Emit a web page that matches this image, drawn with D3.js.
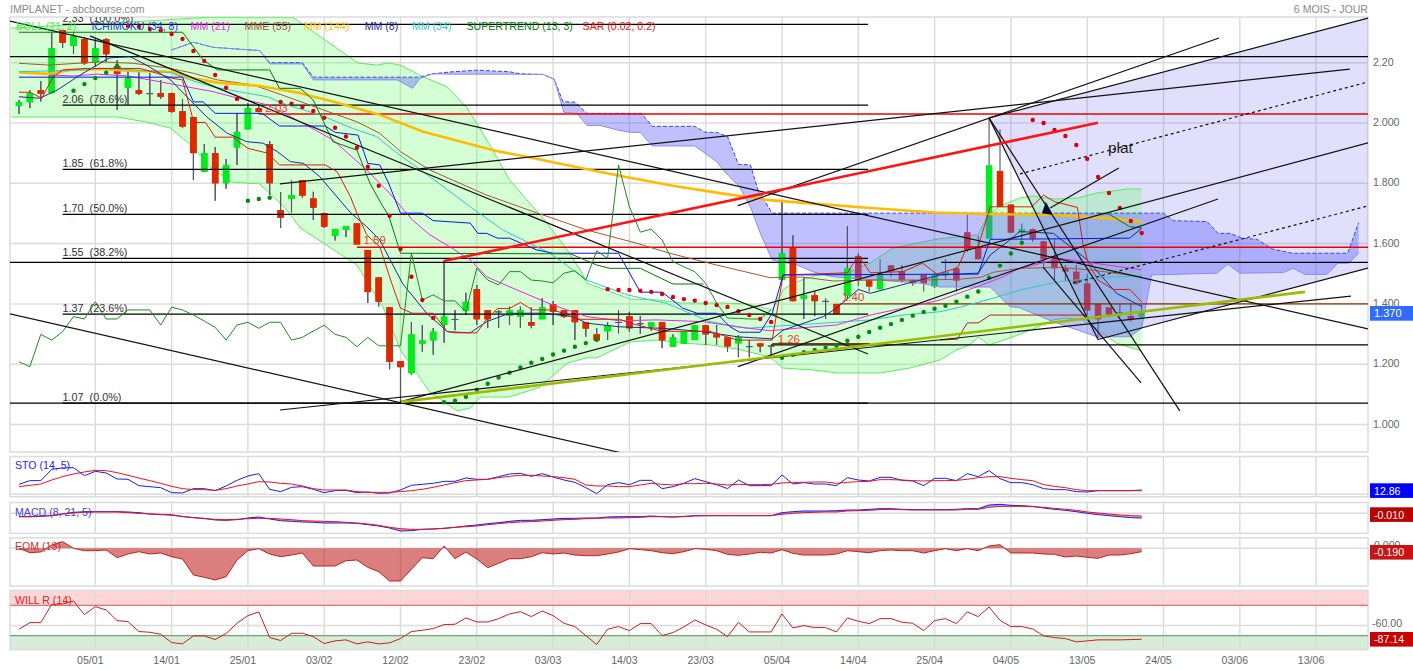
<!DOCTYPE html>
<html><head><meta charset="utf-8">
<script src="https://cdn.jsdelivr.net/npm/d3@7"></script>
<style>html,body{margin:0;padding:0;background:#fff}svg{display:block}text{font-family:"Liberation Sans",Arial,sans-serif}</style>
</head><body><svg id="c" width="1413" height="670"></svg>
<script>
// ---------- candles (one entry per session) ----------
const opens=[2.057,2.069,2.109,2.099,2.308,2.256,2.278,2.201,2.278,2.189,2.117,2.109,2.099,2.099,2.099,2.039,2.02,1.838,1.9,1.8,1.919,1.979,2.049,1.93,1.711,1.748,1.811,1.75,1.701,1.626,1.645,1.667,1.579,1.488,1.389,1.21,1.17,1.268,1.279,1.33,1.35,1.377,1.449,1.379,1.375,1.36,1.358,1.34,1.349,1.399,1.379,1.379,1.339,1.299,1.309,1.34,1.359,1.336,1.324,1.339,1.258,1.268,1.28,1.329,1.299,1.289,1.269,1.26,1.269,1.262,1.479,1.588,1.417,1.429,1.41,1.4,1.427,1.559,1.479,1.448,1.528,1.509,1.479,1.496,1.457,1.494,1.518,1.638,1.59,1.616,1.841,1.73,1.636,1.648,1.608,1.559,1.518,1.507,1.468,1.4,1.389,1.372,1.36,1.358];
const highs=[2.076,2.109,2.139,2.299,2.312,2.299,2.285,2.279,2.282,2.209,2.182,2.169,2.166,2.143,2.1,2.08,2.02,1.93,1.92,1.881,2.033,2.066,2.063,1.94,1.771,1.811,1.811,1.772,1.702,1.648,1.658,1.667,1.579,1.488,1.389,1.21,1.34,1.33,1.32,1.546,1.38,1.437,1.463,1.38,1.38,1.391,1.391,1.389,1.419,1.41,1.38,1.38,1.339,1.319,1.34,1.38,1.374,1.36,1.34,1.34,1.299,1.307,1.329,1.329,1.33,1.29,1.297,1.28,1.27,1.262,1.745,1.628,1.488,1.441,1.418,1.4,1.658,1.569,1.48,1.548,1.529,1.529,1.48,1.497,1.503,1.549,1.523,1.697,1.625,2.016,1.979,1.73,1.667,1.65,1.61,1.617,1.529,1.529,1.499,1.4,1.389,1.4,1.4,1.4];
const lows=[2.03,2.05,2.071,2.099,2.25,2.229,2.192,2.187,2.203,2.043,2.06,2.093,2.06,2.08,2.033,1.983,1.811,1.837,1.742,1.782,1.861,1.979,2.036,1.761,1.652,1.703,1.751,1.678,1.652,1.61,1.622,1.597,1.403,1.391,1.183,1.071,1.164,1.241,1.231,1.271,1.313,1.363,1.33,1.32,1.321,1.33,1.321,1.319,1.349,1.33,1.353,1.28,1.291,1.275,1.28,1.302,1.308,1.3,1.311,1.253,1.258,1.268,1.28,1.264,1.264,1.241,1.223,1.223,1.24,1.225,1.479,1.409,1.35,1.36,1.35,1.367,1.418,1.459,1.44,1.448,1.489,1.47,1.459,1.441,1.453,1.483,1.44,1.572,1.548,1.616,1.722,1.636,1.612,1.605,1.523,1.479,1.474,1.463,1.363,1.287,1.36,1.358,1.341,1.353];
const closes=[2.069,2.099,2.097,2.248,2.266,2.288,2.198,2.248,2.228,2.163,2.148,2.097,2.098,2.087,2.037,1.988,1.9,1.9,1.8,1.861,1.97,2.049,2.037,1.8,1.686,1.761,1.759,1.719,1.656,1.648,1.658,1.597,1.439,1.407,1.208,1.19,1.299,1.279,1.308,1.358,1.349,1.407,1.349,1.349,1.374,1.379,1.379,1.328,1.389,1.374,1.358,1.339,1.318,1.279,1.329,1.339,1.319,1.335,1.339,1.279,1.289,1.307,1.329,1.299,1.289,1.259,1.289,1.259,1.259,1.261,1.568,1.409,1.429,1.409,1.409,1.367,1.518,1.479,1.457,1.499,1.509,1.479,1.468,1.468,1.496,1.507,1.477,1.579,1.548,1.86,1.722,1.636,1.648,1.616,1.548,1.518,1.507,1.468,1.378,1.349,1.363,1.371,1.349,1.37];

// ---------- overlays: [session index, price] ----------
const bollUpper=[[-0.7,2.315],[10.2,2.335],[17.5,2.351],[25.1,2.351],[31.1,2.199],[32.8,2.192],[33.9,2.199],[35,2.192],[37.1,2.153],[39.3,2.119],[41.1,2.05],[43.2,1.927],[45,1.811],[46.6,1.745],[48,1.688],[50.3,1.579],[51.5,1.512],[52.1,1.469],[53.3,1.453],[56.1,1.416],[58.5,1.413],[60.9,1.403],[64.6,1.403],[66.8,1.4],[69.1,1.38],[70.1,1.446],[71,1.469],[73.2,1.496],[76,1.503],[78.1,1.536],[80.2,1.585],[84.2,1.615],[88,1.629],[88.8,1.688],[90,1.725],[91.8,1.751],[93,1.758],[94.9,1.748],[97.1,1.751],[98.9,1.768],[101.7,1.781],[103,1.781]];
const bollLower=[[-0.7,2.02],[3.8,2.02],[9,2.02],[11.7,2.003],[13.9,1.983],[16,1.92],[17.8,1.844],[19.6,1.804],[22.1,1.798],[24.6,1.711],[25.8,1.652],[31,1.529],[33.4,1.39],[35,1.247],[37.7,1.108],[40.2,1.045],[41.4,1.055],[42.3,1.091],[45,1.091],[47.8,1.124],[50.3,1.204],[52.1,1.221],[53,1.221],[56.1,1.274],[58.5,1.28],[60.9,1.27],[63.4,1.264],[65.9,1.25],[68.9,1.224],[70.1,1.187],[72.8,1.181],[75,1.171],[79,1.171],[81.7,1.187],[84.5,1.214],[86,1.247],[87.2,1.264],[88,1.29],[89,1.264],[90.9,1.287],[92.8,1.313],[94.9,1.347],[96,1.353],[97.6,1.347],[99,1.313],[100.7,1.27],[103,1.244]];
const cloudTop=[[14,2.242],[16,2.268],[17.8,2.251],[22.1,2.24],[23,2.2],[26,2.2],[27,2.152],[35,2.152],[36.8,2.152],[37.9,2.163],[39.8,2.17],[42,2.175],[45,2.17],[46,2.163],[48.1,2.161],[49.1,2.145],[49.9,2.071],[51,2.069],[52.1,2.032],[57.1,2.032],[58.1,1.989],[62,1.989],[62.9,1.97],[64.1,1.968],[65,1.955],[66,1.863],[67.1,1.861],[67.8,1.778],[69.1,1.701],[105,1.701],[105.9,1.676],[109,1.673],[110,1.634],[111.1,1.634],[112.2,1.618],[113.6,1.614],[115,1.582],[116.8,1.568],[121.9,1.568],[122.9,1.669]];
const cloudBottom=[[14,2.242],[16,2.268],[17.8,2.251],[22.1,2.24],[23,2.196],[26,2.196],[27,2.143],[34.7,2.143],[36.1,2.115],[36.8,2.148],[37.9,2.163],[39.8,2.162],[45,2.162],[48.1,2.161],[49.1,2.145],[50,2.035],[51.2,2.032],[52.1,1.992],[53.3,1.992],[54.9,1.977],[56.1,1.969],[57,1.969],[58.1,1.924],[62,1.924],[64,1.872],[65,1.828],[66.1,1.789],[67.1,1.722],[68,1.635],[69.1,1.546],[71.4,1.529],[72.8,1.507],[74.7,1.49],[76,1.486],[82.7,1.469],[84.5,1.456],[89.1,1.456],[90.9,1.391],[91.8,1.387],[94.9,1.341],[98.9,1.291],[101.9,1.291],[103,1.319],[103.9,1.496],[109.9,1.502],[110.9,1.532],[112,1.502],[116,1.504],[116.9,1.518],[118,1.498],[120,1.498],[121,1.535],[122,1.535],[122.9,1.568]];
const ichimokuFast=[[0,2.152],[15,2.152],[16,2.07],[16.9,2.07],[18,2.032],[22.3,2.032],[23.9,1.99],[28.1,1.99],[29,1.969],[31.1,1.96],[32,1.866],[33.1,1.861],[33.9,1.801],[35,1.701],[37,1.701],[38,1.676],[41.4,1.668],[42.1,1.634],[42.9,1.634],[43.9,1.618],[45,1.618],[47.5,1.579],[49,1.568],[55,1.568],[57,1.439],[59,1.439],[60.9,1.386],[62.2,1.369],[64,1.369],[65.2,1.325],[66.1,1.306],[68,1.306],[69.1,1.369],[70.1,1.496],[88,1.499],[89.1,1.614],[101.9,1.618],[103,1.651]];
const ichimokuSlow=[[0,2.102],[1,2.102],[2.1,2.082],[3.1,2.152],[4,2.176],[6.1,2.181],[11.1,2.181],[12.2,2.17],[14.1,2.148],[15,2.143],[15.9,2.021],[16.1,2.002],[17.1,2.002],[18,1.953],[19.6,1.953],[21,1.916],[22.8,1.9],[23.9,1.861],[28.1,1.861],[29.2,1.838],[30.4,1.756],[31,1.701],[31.9,1.629],[33.1,1.59],[34.2,1.468],[35,1.386],[36.1,1.369],[38,1.369],[39.3,1.308],[40,1.304],[42,1.304],[42.9,1.349],[43.9,1.385],[45,1.385],[46,1.405],[47.1,1.38],[49,1.38],[49.9,1.369],[51.2,1.349],[55.1,1.349],[56.1,1.336],[59,1.309],[63.4,1.309],[65.9,1.28],[69.1,1.28],[70.1,1.496],[76,1.503],[77,1.562],[78.1,1.503],[81.1,1.507],[82.9,1.535],[84.2,1.499],[86.1,1.519],[87,1.59],[88,1.59],[89.1,1.722],[92.9,1.722],[94,1.761],[95,1.739],[97.1,1.72],[97.6,1.601],[98.1,1.534],[99,1.479],[100.4,1.448],[101.9,1.448],[103,1.407]];
const ichimokuStep=[[84.5,1.28],[86.1,1.283],[87,1.337],[88,1.337],[89.1,1.363],[98,1.363]];
const chikou=[1.208,1.192,1.299,1.28,1.308,1.358,1.35,1.407,1.35,1.35,1.38,1.38,1.38,1.33,1.389,1.38,1.363,1.343,1.322,1.28,1.33,1.339,1.319,1.339,1.339,1.28,1.289,1.31,1.329,1.299,1.289,1.258,1.289,1.261,1.261,1.261,1.568,1.413,1.43,1.41,1.41,1.374,1.518,1.479,1.463,1.507,1.507,1.479,1.476,1.47,1.502,1.51,1.479,1.576,1.551,1.861,1.722,1.638,1.648,1.612,1.54,1.523,1.507,1.468,1.403,1.353,1.352,1.35,1.35,1.38];
const mm144=[[0,2.168],[2.8,2.163],[4.7,2.176],[7.4,2.179],[10.5,2.173],[13.9,2.17],[16,2.148],[18.2,2.134],[22.1,2.123],[25.8,2.099],[28.8,2.071],[33.1,2.027],[37.1,1.971],[42.3,1.921],[44.1,1.905],[46.6,1.888],[51.2,1.853],[55.8,1.82],[60,1.792],[64,1.769],[68.6,1.745],[71.7,1.736],[78.1,1.718],[84,1.703],[88.9,1.698],[95.2,1.695],[99.8,1.684],[103,1.673]];
const mme55=[[0,2.198],[2.8,2.192],[7.4,2.203],[10.5,2.198],[13.9,2.181],[16,2.165],[18.2,2.143],[21.5,2.126],[24.6,2.087],[28.8,2.032],[31,2.004],[33.1,1.966],[35,1.905],[37.7,1.844],[42.9,1.761],[47.5,1.702],[52.1,1.645],[56.7,1.601],[59.7,1.568],[64,1.529],[68.9,1.487],[71.9,1.489],[74.7,1.476],[78.1,1.479],[82.9,1.479],[86.3,1.482],[88.2,1.488],[89.4,1.505],[91.8,1.518],[95.5,1.521],[98.5,1.512],[103,1.49]];
const mm21=[[2.8,2.159],[5,2.156],[7.2,2.162],[9.9,2.156],[12,2.143],[15.4,2.12],[17.8,2.104],[19.6,2.087],[22.8,2.06],[25.8,2.004],[28.8,1.944],[31.9,1.844],[34,1.767],[36.1,1.678],[37.7,1.629],[39.5,1.59],[41.4,1.546],[42.9,1.49],[45.7,1.446],[49,1.396],[52.1,1.358],[55.1,1.344],[58.5,1.347],[62.8,1.341],[65.9,1.324],[68.9,1.311],[71.9,1.321],[75,1.33],[78.1,1.363],[81.1,1.386],[84.5,1.413],[87.9,1.457],[90.3,1.49],[91.6,1.515],[95.5,1.551],[103,1.513]];
const mm34=[[0,2.17],[5.9,2.176],[7.4,2.181],[10.5,2.176],[13.9,2.167],[15.7,2.143],[17.8,2.12],[20.9,2.099],[22.8,2.087],[24.6,2.06],[27.6,2.027],[30.6,1.982],[32.8,1.955],[34.7,1.9],[37.7,1.822],[41.4,1.722],[44.4,1.645],[48.7,1.568],[52.1,1.479],[55.8,1.43],[59.4,1.402],[63.4,1.341],[66.8,1.319],[69.8,1.327],[73.8,1.336],[78.1,1.347],[81.1,1.363],[84.5,1.374],[86.3,1.389],[89.4,1.419],[91.8,1.446],[95.5,1.474],[99.4,1.488],[103,1.493]];
const mm8=[[0,2.087],[1.9,2.082],[3.5,2.109],[5.6,2.159],[8.3,2.216],[10.2,2.22],[11.7,2.192],[13.9,2.143],[15.4,2.087],[17.2,2.021],[19.1,1.966],[20.9,1.938],[22.4,1.933],[23.7,1.905],[24.9,1.872],[26.1,1.866],[27.6,1.822],[30.4,1.703],[31.9,1.656],[33.1,1.612],[35.2,1.467],[37.4,1.369],[39.3,1.308],[41.4,1.304],[42.9,1.341],[45,1.369],[48.1,1.369],[50.8,1.358],[52.1,1.336],[55.1,1.324],[59.1,1.319],[62.8,1.308],[65.9,1.291],[69.1,1.284],[70.1,1.313],[73.8,1.358],[75,1.386],[77,1.448],[78.1,1.435],[81.5,1.468],[84.5,1.496],[88,1.502],[89.1,1.562],[90.9,1.612],[91.8,1.64],[94.9,1.634],[98,1.546],[100.7,1.435],[103,1.391]];
const supertrendA=[[0,2.301],[15,2.301],[16.9,2.209],[18.2,2.176],[23,2.176],[23.9,2.115],[25.8,2.115],[27,2.076],[28.8,1.938],[31,1.91],[32.2,1.8],[33.4,1.722],[33.9,1.695],[35,1.568],[50.6,1.566],[53,1.529],[54.2,1.518],[57,1.518],[60,1.466],[62.8,1.466]];
const supertrendB=[[99,1.701],[100,1.698],[101.9,1.656],[103,1.652]];
const sarHigh=[[10,2.322],[11,2.319],[12,2.312],[13,2.308],[14,2.295],[15,2.279],[16,2.239],[17,2.206],[18,2.159],[19,2.117],[20,2.08],[24,2.07],[25,2.064],[26,2.053],[27,2.04],[28,2.017],[29,1.984],[30,1.955],[31,1.918],[32,1.855],[33,1.792],[34,1.692],[35,1.582],[36,1.49],[37,1.413],[38,1.353],[54,1.449],[55,1.446],[56,1.446],[57,1.444],[58,1.44],[59,1.433],[60,1.423],[61,1.416],[62,1.411],[63,1.403],[64,1.396],[65,1.39],[66,1.376],[67,1.363],[68,1.35],[69,1.34],[93,2.01],[94,2],[95,1.977],[96,1.957],[97,1.927],[98,1.881],[99,1.821],[100,1.768],[101,1.718],[102,1.675],[103,1.635]];
const sarLow=[[5,2.107],[6,2.129],[7,2.149],[8,2.167],[9,2.189],[21,1.742],[22,1.748],[23,1.752],[39,1.074],[40,1.079],[41,1.092],[42,1.115],[43,1.135],[44,1.156],[45,1.172],[46,1.189],[47,1.205],[48,1.217],[49,1.232],[50,1.245],[51,1.258],[52,1.27],[53,1.281],[70,1.221],[71,1.231],[72,1.24],[73,1.247],[74,1.255],[75,1.261],[76,1.278],[77,1.291],[78,1.307],[79,1.321],[80,1.333],[81,1.347],[82,1.361],[83,1.373],[84,1.384],[85,1.394],[86,1.407],[87,1.424],[88,1.441],[89,1.487],[90,1.527],[91,1.567],[92,1.603]];

// ---------- drawn lines ----------
const trendLines=[
 [[-0.83,2.338],[123.76,1.317]],[[6.51,2.289],[77.89,1.234]],[[-0.83,1.367],[55.14,0.907]],
 [[23.94,1.798],[122.1,2.179]],[[23.94,1.048],[122.2,1.426]],[[34.95,1.075],[123.76,1.934]],
 [[65.96,1.192],[110,1.748]],[[65.96,1.726],[110.1,2.282]],
 [[88.99,2.017],[123.76,2.348]],[[98.99,1.282],[123.76,1.519]],[[88.99,2.017],[98.99,1.282]],
 [[88.99,2.017],[106.5,1.045]],[[93.95,1.522],[102.94,1.138]],[[94.6,1.718],[100.9,1.851]]];
const dottedLines=[[[91.83,1.831],[123.76,2.136]],[[96.7,1.469],[123.76,1.725]]];
const channelShape=[[88.99,2.017],[123.76,2.348],[123.76,1.519],[98.99,1.282]];
const oliveLine=[[35.05,1.075],[117.98,1.44]];
const redTrend=[[38.99,1.542],[98.99,2.001]];
const markerShape=[[94.2,1.739],[94.86,1.695],[93.85,1.701]];
const noteText=["plat"];
const notePos=[[99.9,1.901]];

const fibLevels=[2.327,2.059,1.846,1.697,1.551,1.366,1.071];
const fibLabels=["2.33  (100.0%)","2.06  (78.6%)","1.85  (61.8%)","1.70  (50.0%)","1.55  (38.2%)","1.37  (23.6%)","1.07  (0.0%)"];
const fibSpan=[4,77.9];
const blackLevels=[[2.22,-0.83,123.76],[1.538,-0.83,77.9],[1.538,84.6,123.76],[1.264,69,123.76],[1.071,-0.83,123.76]];
const redLevels=[[2.03,22,123.76],[1.588,31,123.76]];
const brownLevels=[[1.4,75.3,123.76],[1.268,69.1,78.1]];
const priceNotes=[["2.03",22.6,2.037],["1.59",31.6,1.6],["1.40",75.5,1.41],["1.26",69.6,1.27]];

// ---------- axes ----------
const priceTicks=[2.2,2,1.8,1.6,1.4,1.2,1];
const priceTickLabels=["2.20","2.000","1.800","1.600","1.400","1.200","1.000"];
const dateTicks=[7,14,21,28,35,42,49,56,63,70,77,84,91,98,105,112,119];
const dateLabels=["05/01","14/01","25/01","03/02","12/02","23/02","03/03","14/03","23/03","05/04","14/04","25/04","04/05","13/05","24/05","03/06","13/06"];
const legendNames=["BOLL (21, 2)","ICHIMOKU (34, 8)","MM (21)","MME (55)","MM (144)","MM (8)","MM (34)","SUPERTREND (13, 3)","SAR (0.02, 0.2)"];
const legendColors=["#44ee44","#2a3be0","#ee22ee","#a0522d","#ffc000","#2a2aa0","#33cccc","#008000","#ee1111"];
const legendX=[16,91.5,190.6,244.6,304,364.7,412,466.5,582.6];

// ---------- indicators ----------
const stoK=[35.1,48,48,87.8,92.4,93.6,65.5,80.7,74.9,53.8,52.7,30.4,26.9,23.4,5.9,4.7,19.9,19.9,12.9,29.3,49.1,64.4,72.5,17.6,9.4,24.6,26.9,17.6,5.9,12.9,14,5.9,8.2,3.5,4.7,15.2,31.6,35.1,38.6,45.6,45.6,57.3,52.7,52.7,62,71.4,73.7,63.2,72.5,60.8,50.3,42.1,23.4,2.3,33.9,41,33.9,49.1,49.1,19.9,26.9,38.6,55,44.5,33.9,19.9,50.3,30.4,30.4,30.4,67.9,36.3,41,36.3,36.3,30.4,58.5,50.3,46.8,59.7,59.7,49.1,46.8,30.4,56.2,56.2,48,72.5,62,83.1,55,41,41,33.9,19.9,16.4,16.4,9.4,8.2,12.9,12.9,12.9,12.9,15.2];
const stoD=[26.9,31.6,36.3,50.3,62,71.4,78.4,84.2,83.1,76.1,66.7,57.3,48,38.6,28.1,19.9,16.4,16.4,14,19.9,29.3,36.3,44.5,43.3,38.6,36.3,29.3,19.9,15.2,15.2,15.2,9.4,7,7,7,9.4,12.9,17.6,24.6,32.8,41,48,50.3,52.7,58.5,63.2,66.7,66.7,64.4,62,58.5,52.7,32.8,29.3,29.3,26.9,26.9,32.8,38.6,35.1,32.8,37.4,37.4,38.6,36.3,32.8,35.1,33.9,33.9,35.1,39.8,42.1,42.1,43.3,43.3,38.6,42.1,44.5,45.6,51.5,51.5,50.3,48,46.8,48,48,49.1,52.7,58.5,62,62,56.2,51.5,48,33.9,28.1,23.4,16.4,12.9,12.9,12.9,12.9,12.9,12.9];
const macdLine=[-.010,-.010,-.009,-.007,-.002,.003,.005,.005,.005,.005,.004,.002,-.002,-.004,-.004,-.010,-.013,-.015,-.020,-.021,-.019,-.014,-.011,-.017,-.022,-.024,-.026,-.027,-.029,-.029,-.029,-.030,-.034,-.038,-.044,-.053,-.052,-.048,-.047,-.045,-.042,-.038,-.035,-.031,-.028,-.024,-.021,-.021,-.019,-.017,-.015,-.015,-.014,-.014,-.011,-.010,-.010,-.010,-.008,-.010,-.011,-.009,-.007,-.007,-.007,-.007,-.007,-.007,-.007,-.007,.002,.005,.007,.007,.007,.008,.010,.010,.012,.014,.014,.012,.011,.011,.011,.011,.012,.014,.014,.025,.027,.024,.023,.021,.016,.012,.009,.005,.000,-.004,-.007,-.010,-.013,-.014];
const macdSignal=[-.010,-.010,-.008,-.006,-.002,.001,.003,.004,.004,.004,.002,0,-.002,-.003,-.006,-.009,-.013,-.016,-.018,-.019,-.018,-.016,-.015,-.015,-.017,-.019,-.022,-.023,-.024,-.025,-.027,-.029,-.032,-.036,-.042,-.046,-.048,-.048,-.047,-.045,-.042,-.040,-.038,-.034,-.031,-.028,-.026,-.025,-.023,-.021,-.019,-.018,-.016,-.015,-.014,-.014,-.013,-.012,-.010,-.010,-.011,-.010,-.008,-.007,-.007,-.007,-.007,-.007,-.007,-.007,-.003,0,.002,.003,.004,.004,.007,.008,.009,.011,.012,.011,.010,.010,.010,.010,.010,.012,.012,.018,.021,.021,.021,.020,.018,.015,.012,.009,.004,.001,-.002,-.005,-.007,-.008];
const eom=[0,-.247,-.209,.19,.38,0,-.133,-.133,-.095,-.532,-.323,-.19,-.323,-.266,-.475,-.608,-1.52,-1.653,-1.805,-1.615,-.665,-.133,-.019,-.323,-.475,-.38,-.266,-1.007,-1.007,-1.007,-.703,-.665,-1.083,-1.33,-1.862,-1.862,-1.197,-.532,-.589,.133,-.589,-.209,-.608,-1.102,-.855,-.589,-.589,-.475,-.247,-.323,-.266,-.38,-.418,-.418,-.323,-.209,-.019,-.076,-.133,-.247,-.304,-.19,-.019,-.057,-.133,-.342,-.399,-.323,-.228,-.266,-.076,-.285,-.38,-.38,-.38,-.323,-.133,-.19,-.247,-.133,-.095,-.133,-.133,-.266,-.133,-.019,-.133,-.019,-.133,.133,.209,-.266,-.266,-.266,-.323,-.342,-.494,-.437,-.513,-.57,-.38,-.38,-.304,-.19];
const willR=[-67.3,-54.2,-54.2,-18,-17.4,-11.5,-38.4,-22.6,-29.2,-50.2,-52.2,-71.9,-73.2,-77.2,-93.6,-96.2,-80.4,-80.4,-87.7,-75.8,-55.5,-40.4,-33.1,-83.7,-89.6,-75.2,-75.2,-81.8,-95.6,-90.3,-88.3,-96.2,-92.3,-96.2,-94.2,-85.7,-71.9,-69.3,-66,-58.1,-57.4,-45,-52.9,-52.9,-46.3,-37.1,-32.5,-42.3,-31.2,-40.4,-55.5,-62,-79.8,-97.5,-67.3,-62,-69.9,-56.1,-56.1,-79.8,-73.9,-62.7,-48.9,-58.8,-67.3,-81.8,-53.5,-72.6,-72.6,-72.6,-37.1,-64.7,-60.1,-64,-64,-72.6,-45,-51.5,-56.1,-46.3,-46.3,-53.5,-55.5,-69.9,-50.2,-46.3,-56.1,-33.1,-42.3,-23.3,-49.6,-62,-62,-66.6,-80.4,-83.7,-85.7,-92.3,-90.3,-88.3,-88.3,-88.3,-87.7,-87.14];
const panelNames=["STO (14, 5)","MACD (8, 21, 5)","EOM (13)","WILL R (14)"];
const panelColors=["#2222ff","#4444dd","#cc3333","#dd2222"];
const lastValues=["12.86","-0.010","-0.190","-87.14"];
const boxColors=["#0000ff","#bb0000","#c81414","#cc0000"];

// ---------- scales ----------
const svg=d3.select("#c");
const x=d3.scaleLinear().domain([0,103]).range([19,1141.7]);
const y=d3.scaleLinear().domain([2,1.2]).range([123,364.2]);
const L=10,R=1368,T=17,B=452;
const panels=[{t:456.5,b:496.7},{t:502.5,b:533.4},{t:537.8,b:586},{t:590.4,b:649.7}];
const yS=d3.scaleLinear().domain([0,100]).range([494.33,465.83]);
const yM=d3.scaleLinear().domain([0,-0.06]).range([513.33,533.33]);
const yE=d3.scaleLinear().domain([0,-2]).range([548.33,583.4]);
const yW=d3.scaleLinear().domain([-20,-80]).range([605.33,635.67]);
const indexed=a=>a.map((v,i)=>[i,v]);
const pl=d3.line().x(d=>x(d[0])).y(d=>y(d[1]));
const GRID="#dcdcdc";

// ---------- frames and grid ----------
const grid=svg.append("g").attr("fill","none").attr("stroke",GRID).attr("stroke-width",1.5);
svg.insert("rect","g").attr("x",L).attr("width",R-L).attr("y",panels[3].t).attr("height",yW(-20)-panels[3].t).attr("fill","#ffd6d6");
svg.insert("rect","g").attr("x",L).attr("width",R-L).attr("y",yW(-80)).attr("height",panels[3].b-yW(-80)).attr("fill","#d9ebd9");
grid.append("rect").attr("x",L).attr("y",T).attr("width",R-L).attr("height",B-T);
panels.forEach(p=>grid.append("rect").attr("x",L).attr("y",p.t).attr("width",R-L).attr("height",p.b-p.t));
priceTicks.forEach(t=>grid.append("line").attr("x1",L).attr("x2",R).attr("y1",y(t)).attr("y2",y(t)));
dateTicks.forEach(i=>{[[T,B]].concat(panels.map(p=>[p.t,p.b])).forEach(s=>grid.append("line").attr("x1",x(i)).attr("x2",x(i)).attr("y1",s[0]).attr("y2",s[1]));});
[yS(0),yM(0),yE(0),yW(-60)].forEach(v=>grid.append("line").attr("x1",L).attr("x2",R).attr("y1",v).attr("y2",v));

// ---------- main chart ----------
svg.append("clipPath").attr("id","mc").append("rect").attr("x",L).attr("y",T).attr("width",R-L).attr("height",B-T);
const m=svg.append("g").attr("clip-path","url(#mc)");
const closed=(a,b)=>pl(a.concat(b.slice().reverse()))+"Z";
m.append("path").attr("d",pl(channelShape)+"Z").attr("fill","rgba(90,90,240,0.19)");
m.append("path").attr("d",closed(bollUpper,bollLower)).attr("fill","rgba(100,255,100,0.28)");
[bollUpper,bollLower].forEach(a=>m.append("path").attr("d",pl(a)).attr("fill","none").attr("stroke","#5cec5c").attr("stroke-width",1));

const bw=(x(1)-x(0))*0.6;
function candles(g,idx){
  const s=g.selectAll("g").data(idx).join("g");
  s.append("line").attr("x1",i=>x(i)).attr("x2",i=>x(i)).attr("y1",i=>y(highs[i])).attr("y2",i=>y(lows[i])).attr("stroke","#556").attr("stroke-width",1.1);
  s.append("rect").attr("x",i=>x(i)-bw/2).attr("width",bw)
   .attr("y",i=>y(Math.max(opens[i],closes[i])))
   .attr("height",i=>Math.max(1,Math.abs(y(opens[i])-y(closes[i]))))
   .attr("fill",i=>Math.abs(opens[i]-closes[i])<0.002?"#556":closes[i]>opens[i]?"#00ec1c":"#dc2a00");
}
candles(m.append("g"),d3.range(opens.length));
m.append("path").attr("d",closed(cloudTop,cloudBottom)).attr("fill","rgba(90,90,255,0.38)");
m.append("path").attr("d",pl(cloudTop)).attr("fill","none").attr("stroke","#3a46e0").attr("stroke-width",1).attr("stroke-dasharray","4,2");
m.append("path").attr("d",pl(cloudBottom)).attr("fill","none").attr("stroke","#8a8af5").attr("stroke-width",1);
candles(m.append("g"),d3.range(0,77));
const hl=(arr,c,w)=>arr.forEach(l=>m.append("line").attr("x1",x(l[1])).attr("x2",x(l[2])).attr("y1",y(l[0])).attr("y2",y(l[0])).attr("stroke",c).attr("stroke-width",w));
hl(fibLevels.map(p=>[p,fibSpan[0],fibSpan[1]]),"#000",1.2);
hl(blackLevels,"#000",1.2);
hl(redLevels,"#ee0000",1.4);
hl(brownLevels,"#8c3300",1.3);
const ov=(a,c,w)=>m.append("path").attr("d",pl(a)).attr("fill","none").attr("stroke",c).attr("stroke-width",w).attr("stroke-linejoin","round");
ov(mme55,"#a8562f",1);
ov(mm144,"#ffbb00",2.6);
ov(mm34,"#30c8cc",1);
ov(mm21,"#ee22ee",1);
ov(mm8,"#1a2a90",1);
ov(ichimokuSlow,"#dd1a10",1);
ov(ichimokuStep,"#c01818",1);
ov(ichimokuFast,"#0a14f0",1);
ov(indexed(chikou),"#1e8a1e",1);
ov(supertrendA,"#007a00",1);
ov(supertrendB,"#007a00",1);
m.selectAll("circle.h").data(sarHigh).join("circle").attr("class","h").attr("cx",d=>x(d[0])).attr("cy",d=>y(d[1])).attr("r",2.2).attr("fill","#d80010");
m.selectAll("circle.l").data(sarLow).join("circle").attr("class","l").attr("cx",d=>x(d[0])).attr("cy",d=>y(d[1])).attr("r",2.2).attr("fill","#008a12");
trendLines.forEach(a=>ov(a,"#111",1.2));
dottedLines.forEach(a=>ov(a,"#111",1.2).attr("stroke-dasharray","3,3"));
ov(oliveLine,"#9abb00",2.6);
ov(redTrend,"#ff1414",2.6);
m.append("path").attr("d",pl(markerShape)+"Z").attr("fill","#0a0a30");
m.selectAll("text.n").data(noteText).join("text").attr("class","n").attr("x",(d,i)=>x(notePos[i][0])).attr("y",(d,i)=>y(notePos[i][1])).attr("font-size",15.5).attr("fill","#222").text(d=>d);
m.selectAll("text.p").data(priceNotes).join("text").attr("class","p").attr("x",d=>x(d[1])).attr("y",d=>y(d[2])).attr("font-size",11.5).attr("fill","#ee3a3a").text(d=>d[0]);
m.selectAll("text.f").data(fibLabels).join("text").attr("class","f").attr("x",x(fibSpan[0])).attr("y",(d,i)=>y(fibLevels[i])-2).attr("font-size",10.8).attr("fill","#333").style("white-space","pre").text(d=>d);

// ---------- sub panels ----------
const ln=(s,scale,c,w)=>svg.append("path").attr("d",d3.line().x((d,i)=>x(i)).y(d=>scale(d))(s)).attr("fill","none").attr("stroke",c).attr("stroke-width",w);
const gap=(a,b,scale,c)=>svg.append("path").attr("d",d3.area().x((d,i)=>x(i)).y0((d,i)=>scale(a[i])).y1((d,i)=>scale(Math.min(a[i],b[i])))(a)).attr("fill",c);
ln(stoK,yS,"#1020f0",1); ln(stoD,yS,"#f01020",1);
gap(macdLine,macdSignal,yM,"rgba(80,80,255,0.5)"); gap(macdSignal,macdLine,yM,"rgba(245,80,80,0.5)");
ln(macdLine,yM,"#1020f0",1); ln(macdSignal,yM,"#f01020",1);
svg.append("path").attr("d",d3.area().x((d,i)=>x(i)).y0(yE(0)).y1(d=>yE(d))(eom)).attr("fill","rgba(190,20,20,0.55)");
ln(eom,yE,"#c02020",1);
[[-20,"#ee6e6e"],[-80,"#6fa76f"]].forEach(b=>svg.append("line").attr("x1",L).attr("x2",R).attr("y1",yW(b[0])).attr("y2",yW(b[0])).attr("stroke",b[1]).attr("stroke-width",1.2));
ln(willR,yW,"#c82020",1);

// ---------- texts ----------
const tx=(t,xx,yy,c,s,a)=>svg.append("text").attr("x",xx).attr("y",yy).attr("fill",c).attr("font-size",s).attr("text-anchor",a||"start").text(t);
const F=10.6;
tx("IMPLANET - abcbourse.com",10,13,"#8a8a8a",F);
tx("6 MOIS - JOUR",1368,13,"#8a8a8a",F,"end");
legendNames.forEach((n,i)=>tx(n,legendX[i],29.5,legendColors[i],F));
panelNames.forEach((n,i)=>tx(n,15,[469,515.5,550,604][i],panelColors[i],F));
priceTicks.forEach((t,i)=>tx(priceTickLabels[i],1373,y(t)+3,"#666",F));
dateTicks.forEach((t,i)=>tx(dateLabels[i],x(t)-5,664,"#666",F,"middle"));
tx("-60.00",1372,yW(-60)+1,"#666",F);
tx("0.000",1374,yE(0)+1,"#666",F);
const box=(yy,h,c,t,fs)=>{svg.append("rect").attr("x",1370).attr("y",yy).attr("width",43).attr("height",h).attr("fill",c);
  svg.append("text").attr("x",1374).attr("y",yy+h/2+4).attr("fill","#fff").attr("font-size",fs).text(t);};
box(306,14.7,"#2f6bff","1.370",11);
[483.3,507.3,545,632].forEach((v,i)=>box(v,14.6,boxColors[i],lastValues[i],F));
</script></body></html>
